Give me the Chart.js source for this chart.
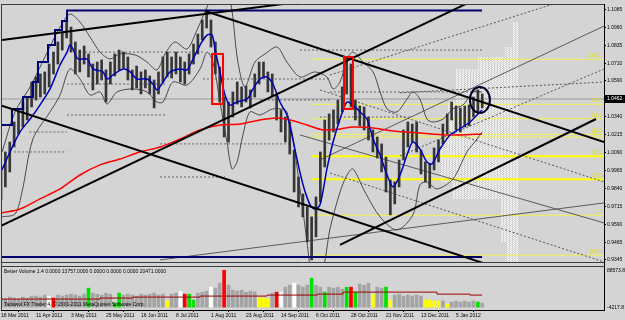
<!DOCTYPE html>
<html>
<head>
<meta charset="utf-8">
<script src="https://cdn.jsdelivr.net/npm/chart.js@4.4.0/dist/chart.umd.min.js"></script>
<style>
  html, body { margin: 0; padding: 0; background: #d4d4d4; }
</style>
</head>
<body>
<canvas id="grafico" width="625" height="320"></canvas>
<script>
// fechas del eje x y su barra (dia habil)
const fechas = ['18 Mar 2011', '11 Apr 2011', '3 May 2011', '25 May 2011', '16 Jun 2011', '8 Jul 2011', '1 Aug 2011',
  '23 Aug 2011', '14 Sep 2011', '6 Oct 2011', '28 Oct 2011', '21 Nov 2011', '13 Dec 2011', '5 Jan 2012'];
const fechasDia = [0, 16, 32, 48, 64, 80, 96, 112, 128, 144, 160, 176, 192, 208];

const precioTicks = [1.1085, 1.0960, 1.0835, 1.0710, 1.0590, 1.0340, 1.0215, 1.0090, 0.9965, 0.9840, 0.9715, 0.9590, 0.9465, 0.9345];
const precioActual = 1.0462;

// velas (una cada 2 dias): maximo y minimo
const velaAlto = [0.9955,1.0094,1.0163,1.0302,1.0372,1.0441,1.0476,1.0580,1.0615,1.0636,
  1.0650,1.0705,1.0788,1.0858,1.0927,1.0997,1.0962,1.0858,1.0802,1.0830,
  1.0775,1.0705,1.0719,1.0733,1.0664,1.0719,1.0775,1.0802,1.0788,1.0754,
  1.0664,1.0691,1.0650,1.0664,1.0622,1.0594,1.0650,1.0754,1.0788,1.0754,
  1.0788,1.0754,1.0719,1.0775,1.0844,1.0913,1.1011,1.1080,1.1011,1.0858,
  1.0684,1.0476,1.0441,1.0511,1.0580,1.0546,1.0552,1.0525,1.0636,1.0719,
  1.0719,1.0650,1.0636,1.0497,1.0386,1.0337,1.0302,1.0108,0.9920,0.9802,
  0.9712,0.9643,0.9782,1.0094,1.0316,1.0358,1.0386,1.0455,1.0546,1.0754,
  1.0705,1.0455,1.0413,1.0407,1.0337,1.0247,1.0198,1.0150,1.0059,0.9900,
  0.9886,1.0038,1.0247,1.0302,1.0288,1.0302,1.0108,1.0025,1.0011,1.0122,
  1.0177,1.0288,1.0358,1.0441,1.0413,1.0400,1.0413,1.0420,1.0476,1.0525,
  1.0497];
const velaBajo = [0.9761,0.9851,0.9955,1.0129,1.0219,1.0268,1.0316,1.0407,1.0455,1.0476,
  1.0497,1.0546,1.0636,1.0705,1.0802,1.0886,1.0788,1.0636,1.0650,1.0705,
  1.0615,1.0525,1.0566,1.0594,1.0441,1.0566,1.0622,1.0664,1.0677,1.0594,
  1.0525,1.0539,1.0497,1.0539,1.0497,1.0400,1.0497,1.0580,1.0615,1.0608,
  1.0636,1.0580,1.0566,1.0636,1.0705,1.0775,1.0872,1.0955,1.0823,1.0636,
  1.0441,1.0198,1.0163,1.0337,1.0427,1.0407,1.0441,1.0400,1.0476,1.0566,
  1.0608,1.0511,1.0483,1.0316,1.0233,1.0163,1.0080,0.9816,0.9712,0.9643,
  0.9469,0.9344,0.9504,0.9747,0.9990,1.0177,1.0233,1.0288,1.0372,1.0497,
  1.0407,1.0316,1.0275,1.0247,1.0177,1.0094,1.0052,0.9955,0.9816,0.9657,
  0.9733,0.9851,1.0038,1.0129,1.0163,1.0094,0.9941,0.9886,0.9844,0.9969,
  1.0025,1.0150,1.0219,1.0316,1.0247,1.0233,1.0268,1.0275,1.0337,1.0372,
  1.0400];

// medias moviles [dia, precio]
const mediaAzul = [[0,0.9955],[4.1,1.0094],[8.7,1.0233],[13.3,1.0323],[17.8,1.0420],[22.4,1.0532],[27,1.0698],[30.2,1.0788],
  [31.5,1.0837],[32.9,1.0809],[35.2,1.0740],[39.3,1.0740],[42.1,1.0671],[46.6,1.0650],[48.5,1.0601],[51.2,1.0629],[55.8,1.0671],
  [59,1.0650],[62.2,1.0601],[66.7,1.0601],[69.5,1.0566],[71.3,1.0525],[74.1,1.0580],[77.3,1.0650],[81.8,1.0671],[85,1.0664],
  [87.8,1.0740],[91,1.0837],[94.2,1.0906],[96.5,1.0906],[97.8,1.0809],[100.1,1.0650],[102.4,1.0490],[104.7,1.0420],[107.9,1.0441],
  [112.5,1.0462],[115.2,1.0532],[118.4,1.0601],[121.6,1.0615],[124.3,1.0566],[127.5,1.0441],[130.7,1.0351],[133,1.0212],
  [135.3,1.0045],[138.1,0.9865],[141.3,0.9726],[143.5,0.9698],[145.8,0.9726],[149,0.9976],[151.8,1.0163],[155,1.0323],
  [158.2,1.0441],[160.9,1.0420],[164.1,1.0372],[167.3,1.0323],[170.1,1.0184],[173.3,1.0073],[176.5,0.9934],[179.2,0.9851],
  [182.4,0.9934],[185.6,1.0073],[188.3,1.0163],[191.5,1.0115],[194.7,1.0025],[197,1.0011],[200.7,1.0115],[205.3,1.0212],
  [209.8,1.0254],[214.4,1.0302],[217.6,1.0351],[219.9,1.0386]];
const mediaRoja = [[0,0.9670],[8.7,0.9698],[17.8,0.9768],[27,0.9837],[36.1,0.9934],[45.3,1.0004],[54.4,1.0045],[63.5,1.0094],
  [72.7,1.0129],[81.8,1.0184],[91,1.0247],[100.1,1.0281],[109.3,1.0288],[118.4,1.0316],[126.2,1.0330],[132.1,1.0316],
  [139.9,1.0281],[147.2,1.0247],[155,1.0254],[160.9,1.0268],[170.1,1.0261],[179.2,1.0240],[191.5,1.0226],[203.9,1.0212],
  [209.8,1.0212],[219.9,1.0219]];

// bandas de Bollinger
const bandaSup = [[0.5,1.0094],[6.4,1.0372],[13.3,1.0546],[20.1,1.0754],[27,1.0962],[31.5,1.1052],[36.1,1.0997],[40.7,1.0893],
  [45.3,1.0788],[49.8,1.0740],[54.4,1.0775],[61.3,1.0768],[66.7,1.0719],[71.3,1.0664],[75,1.0775],[79.5,1.0858],[85,1.0809],
  [89.6,1.0941],[94.2,1.1101],[97.8,1.1205],[103.8,1.1205],[108.3,1.0719],[111.5,1.0546],[116.1,1.0719],[120.7,1.0775],
  [126.2,1.0823],[130.7,1.0719],[136.7,1.0615],[143.5,1.0650],[149,1.0615],[151.8,1.0532],[155,1.0580],[158.2,1.0740],
  [160.9,1.0788],[165.5,1.0719],[170.1,1.0650],[173.3,1.0511],[176.5,1.0393],[181,1.0372],[185.6,1.0462],[188.3,1.0511],
  [191.5,1.0462],[194.7,1.0323],[197.5,1.0302],[202.1,1.0323],[206.6,1.0393],[211.2,1.0420],[215.8,1.0511],[219.9,1.0511]];
const bandaInf = [[0.5,0.9643],[6.4,0.9663],[9.6,0.9816],[14.6,1.0184],[22.4,1.0372],[27,1.0490],[31.5,1.0671],[36.1,1.0601],
  [40.7,1.0490],[45.3,1.0511],[48.5,1.0427],[53,1.0511],[60.3,1.0532],[66.7,1.0511],[71.3,1.0441],[74.1,1.0441],[78.6,1.0580],
  [85,1.0559],[91,1.0671],[94.2,1.0788],[96.9,1.0719],[100.1,1.0441],[103.3,1.0163],[105.6,0.9976],[107.9,1.0025],[110.6,1.0212],
  [113.8,1.0372],[118.4,1.0351],[124.3,1.0393],[130.7,1.0372],[136.7,0.9837],[139.9,0.9469],[142.2,0.9261],[146.7,0.9261],
  [150.4,0.9559],[155,0.9816],[158.2,0.9934],[160.9,0.9976],[166.4,0.9816],[173.3,0.9643],[181,0.9552],[188.3,0.9657],
  [191.5,0.9865],[194.7,0.9886],[199.3,0.9837],[206.6,0.9906],[213,1.0094],[217.6,1.0184],[219.9,1.0233]];

// canal (escalones gruesos)
const canalSup = [[0,0.9837],[5,1.0281],[10.1,1.0393],[14.6,1.0476],[16.9,1.0580],[21.5,1.0719],[24.7,1.0837],[27.9,1.0941],
  [30.2,1.1004],[92.3,1.1077],[219.9,1.1077]];
const canalInf = [[0,0.9691],[141.3,0.9365],[219.9,0.9365]];

// lineas de tendencia [dia1, precio1, dia2, precio2]
const lineasNegras = [[0.5,1.0872,128.9,1.1122],[0,1.0418,220.3,0.9323],[93.3,1.1073,275.7,1.0163],
  [0,0.9580,214.4,1.1136],[155,0.9448,272,1.0323]];
const lineasGrises = [[145.8,1.0039,275.7,1.0969],[72.7,0.9344,275.7,0.9740],[136.7,1.0212,275.7,0.9601]];
const lineasAbanico = [[150.4,1.0629,255.5,1.1136],[182.4,1.0505,275.7,1.0580],[182.4,1.0066,275.7,1.0671],
  [145.8,1.0525,275.7,0.9886],[150.4,0.9948,275.7,0.9330]];
// niveles punteados [dia1, dia2, precio]
const escalones = [[38.4,93.3,1.0788],[136.7,219.9,1.0802],[30.2,75,1.0566],[92.3,150.4,1.0601],[30.2,75,1.0351],
  [118.4,150.4,1.0455],[150.4,219.9,1.0511],[72.7,132.1,1.0150],[145.8,187,1.0337],[72.7,102.4,0.9920],
  [6,30,1.0094],[13,30,1.0233]];

// Fibonacci
const fibNiveles = [1.0738, 1.0425, 1.0325, 1.0217, 1.0198, 1.0064, 0.9904, 0.9654, 0.9377];
const fibEtiquetas = ['100.0', '23.6', '61.8', '38.2', '50.0', '38.2', '23.6', '0.0', '100.0'];
const fibInicio = 142;

// marcas: rectangulos rojos y elipse [dia1, dia2, precioArriba, precioAbajo]
const rectRojos = [[96.5,101.5,1.0775,1.0427],[156.8,160.9,1.0754,1.0393]];
const elipse = [214.4,223.5,1.0546,1.0365];

// perfil de mercado [precioArriba, precioAbajo, diaInicio]
const perfil = [[1.0997,1.0823,233.6],[1.0823,1.0754,230.4],[1.0754,1.0671,218.1],[1.0671,1.0441,207.5],
  [1.0441,1.0233,204.3],[1.0233,0.9886,200.7],[0.9886,0.9768,206.6],[0.9768,0.9469,228.1],[0.9469,0.9330,231.3]];
const perfilFin = 236.8;

// volumen
const volumen = [20700,18400,22900,20700,18400,22900,20700,25200,25200,22900,
  27500,25200,20700,27500,25200,27500,29700,27500,25200,29700,
  43300,32000,29700,27500,32000,29700,9400,32000,27500,29700,
  27500,25200,29700,27500,29700,32000,27500,29700,13900,29700,
  32000,36500,29700,29700,16200,32000,34300,36500,45600,43300,
  54600,84000,50100,38800,36500,38800,34300,36500,34300,20700,
  20700,18400,32000,34300,34300,45600,50100,54600,50100,45600,
  50100,65900,50100,45600,34300,45600,43300,45600,41000,45600,
  45600,34300,52400,50100,54600,29700,45600,43300,45600,16200,
  27500,29700,25200,27500,25200,27500,25200,16200,16200,13900,
  13900,13900,7100,11600,13900,11600,13900,11600,13900,11600,
  9400];
const volTipo = ('ggggggggggg' + 'wr' + 'ggggggg' + 'G' + 'ggggg' + 'GG' + 'gggggggggg' + 'y' + 'gg' + 'wrGG' + 'ggg' + 'w' +
  'gg' + 'r' + 'ggggggg' + 'yyy' + 'g' + 'rw' + 'gg' + 'w' + 'ggg' + 'G' + 'gg' + 'G' + 'gggg' + 'GrG' + 'ggg' + 'y' + 'gg' +
  'Gy' + 'ggggggg' + 'yyyy' + 'g' + 'y' + 'gggggg' + 'G' + 'g').split('');
const volMedia = [[0,18400],[45.3,18400],[60.3,20700],[91,22900],[121.6,25200],[144.5,27500],[156.3,29700],
  [177.8,34300],[199.3,34300],[214.4,29700],[219.9,27500]];
const volEtiquetas = [88573.8, -4217.8];

const textoVolumen = 'Better Volume 1.4 0.0000 13757.0000 0.0000 0.0000 0.0000 20471.0000';
const textoPie = 'Tadawul FX Trader 4, \u00a9 2001-2011 MetaQuotes Software Corp.';

document.addEventListener("DOMContentLoaded", function () {
    const FONDO = '#d4d4d4';
    const fuente = { family: '"Liberation Sans", Arial, sans-serif', size: 5 };
    const colorVol = { g: '#a4a4a4', r: '#ff0000', G: '#00e000', w: '#ffffff', y: '#ffff00' };
    const recorte = { left: 0, top: 0, right: 0, bottom: -48 };

    const puntos = arr => arr.map(p => ({ x: p[0], y: p[1] }));
    const linea = (data, color, ancho, extra) => Object.assign({
        type: 'line', data: data, borderColor: color, borderWidth: ancho,
        pointRadius: 0, fill: false, yAxisID: 'y', clip: recorte
    }, extra || {});

    const datasets = [];
    lineasNegras.forEach(l => datasets.push(linea([{ x: l[0], y: l[1] }, { x: l[2], y: l[3] }], '#000000', 2)));
    datasets.push(linea(puntos(canalSup), '#000070', 2, { stepped: 'after' }));
    datasets.push(linea(puntos(canalInf), '#000070', 2, { stepped: 'after' }));
    datasets.push(linea(puntos(mediaAzul), '#0000b4', 1.5, { tension: 0.3 }));
    datasets.push(linea(puntos(mediaRoja), '#ff0000', 1.5, { tension: 0.3 }));
    datasets.push({
        type: 'bar', yAxisID: 'y', clip: recorte, grouped: false,
        data: velaAlto.map((h, i) => ({ x: i * 2, y: [velaBajo[i], h] })),
        backgroundColor: '#363636', barThickness: 2
    });
    datasets.push(linea(puntos(bandaSup), '#4a4a4a', 1, { tension: 0.3 }));
    datasets.push(linea(puntos(bandaInf), '#4a4a4a', 1, { tension: 0.3 }));
    lineasGrises.forEach(l => datasets.push(linea([{ x: l[0], y: l[1] }, { x: l[2], y: l[3] }], '#5a5a5a', 1)));
    lineasAbanico.forEach(l => datasets.push(linea([{ x: l[0], y: l[1] }, { x: l[2], y: l[3] }], '#555555', 1, { borderDash: [2, 2] })));
    escalones.forEach(e => datasets.push(linea([{ x: e[0], y: e[2] }, { x: e[1], y: e[2] }], '#666666', 1, { borderDash: [2, 2] })));
    datasets.push(linea([{ x: 0, y: precioActual }, { x: 275.7, y: precioActual }], '#9a9a9a', 1));
    fibNiveles.forEach((v, i) => datasets.push(linea([{ x: fibInicio, y: v }, { x: 275.7, y: v }],
        (i === 5 || i === 6) ? '#ffff00' : '#f2f250', (i === 5 || i === 6) ? 2 : 1)));
    datasets.push({
        type: 'line', yAxisID: 'yv', data: puntos(volMedia), borderColor: '#9a0000', borderWidth: 1,
        pointRadius: 0, stepped: 'after'
    });
    datasets.push({
        type: 'bar', yAxisID: 'yv', grouped: false,
        data: volumen.map((v, i) => ({ x: i * 2, y: v })),
        backgroundColor: volTipo.map(t => colorVol[t]), barThickness: 3
    });

    const extras = {
        id: 'extras',
        beforeDraw(chart) {
            const ctx = chart.ctx;
            ctx.save();
            ctx.fillStyle = FONDO;
            ctx.fillRect(0, 0, chart.width, chart.height);
            ctx.restore();
        },
        beforeDatasetsDraw(chart) {
            const { ctx, scales: { x, y } } = chart;
            const tile = document.createElement('canvas');
            tile.width = 3; tile.height = 2;
            const tc = tile.getContext('2d');
            tc.fillStyle = 'rgba(255,255,255,0.9)';
            tc.fillRect(0, 0, 1, 1);
            tc.fillRect(1, 1, 1, 1);
            ctx.save();
            ctx.fillStyle = ctx.createPattern(tile, 'repeat');
            const xFin = Math.round(x.getPixelForValue(perfilFin));
            perfil.forEach(([pa, pb, d]) => {
                const x1 = Math.round(x.getPixelForValue(d));
                const y1 = Math.round(y.getPixelForValue(pa)), y2 = Math.round(y.getPixelForValue(pb));
                ctx.fillRect(x1, y1, xFin - x1, y2 - y1);
            });
            ctx.restore();
        },
        afterDatasetsDraw(chart) {
            const { ctx, chartArea, scales: { x, y } } = chart;
            ctx.save();
            // rectangulos rojos
            ctx.strokeStyle = '#ff0000';
            ctx.lineWidth = 2;
            rectRojos.forEach(r => {
                const x1 = x.getPixelForValue(r[0]), x2 = x.getPixelForValue(r[1]);
                const y1 = y.getPixelForValue(r[2]), y2 = y.getPixelForValue(r[3]);
                ctx.strokeRect(x1, y1, x2 - x1, y2 - y1);
            });
            // elipse
            const ex1 = x.getPixelForValue(elipse[0]), ex2 = x.getPixelForValue(elipse[1]);
            const ey1 = y.getPixelForValue(elipse[2]), ey2 = y.getPixelForValue(elipse[3]);
            ctx.strokeStyle = '#000028';
            ctx.beginPath();
            ctx.ellipse((ex1 + ex2) / 2, (ey1 + ey2) / 2, (ex2 - ex1) / 2, (ey2 - ey1) / 2, 0, 0, Math.PI * 2);
            ctx.stroke();
            // etiquetas Fibonacci
            ctx.font = '5px "Liberation Sans", Arial, sans-serif';
            ctx.fillStyle = '#e6e600';
            ctx.textAlign = 'right';
            ctx.textBaseline = 'bottom';
            fibNiveles.forEach((v, i) => {
                ctx.fillText(fibEtiquetas[i], chartArea.right - 2, y.getPixelForValue(v) - 1);
            });
            // textos del panel de volumen
            ctx.fillStyle = '#000000';
            ctx.textAlign = 'left';
            ctx.textBaseline = 'middle';
            ctx.fillText(textoVolumen, 4, 272);
            ctx.fillText(textoPie, 4, 305);
            ctx.restore();
        },
        afterDraw(chart) {
            const { ctx, chartArea, scales: { y, yv } } = chart;
            ctx.save();
            // separacion entre paneles
            ctx.fillStyle = FONDO;
            ctx.fillRect(chartArea.left, 262, chartArea.right - chartArea.left, 4);
            ctx.strokeStyle = '#3c3c3c';
            ctx.lineWidth = 1;
            ctx.beginPath();
            ctx.moveTo(chartArea.left, 262.5); ctx.lineTo(chartArea.right, 262.5);
            ctx.moveTo(chartArea.left, 266.5); ctx.lineTo(chartArea.right, 266.5);
            ctx.moveTo(1.5, chartArea.top); ctx.lineTo(1.5, chartArea.bottom);
            ctx.moveTo(chartArea.left, chartArea.top + 0.5); ctx.lineTo(chartArea.right, chartArea.top + 0.5);
            ctx.stroke();
            // etiquetas del volumen
            ctx.font = '5px "Liberation Sans", Arial, sans-serif';
            ctx.fillStyle = '#000000';
            ctx.textAlign = 'left';
            ctx.textBaseline = 'middle';
            ctx.fillText(volEtiquetas[0].toFixed(1), chartArea.right + 3, yv.getPixelForValue(volEtiquetas[0]) + 2);
            ctx.fillText(volEtiquetas[1].toFixed(1), chartArea.right + 3, yv.getPixelForValue(volEtiquetas[1]) - 1);
            // precio actual
            const py = y.getPixelForValue(precioActual);
            ctx.fillStyle = '#000000';
            ctx.fillRect(chartArea.right, py - 4, 21, 8);
            ctx.fillStyle = '#ffffff';
            ctx.fillText(precioActual.toFixed(4), chartArea.right + 3, py);
            ctx.restore();
        }
    };

    new Chart(document.getElementById("grafico").getContext("2d"), {
        type: 'line',
        data: { datasets: datasets },
        options: {
            responsive: false,
            animation: false,
            devicePixelRatio: 1,
            layout: { padding: { left: 1, top: 2, right: 0, bottom: 0 } },
            plugins: { legend: { display: false }, tooltip: { enabled: false } },
            scales: {
                x: {
                    type: 'linear', min: 0, max: 275.66, offset: false,
                    afterFit: s => { s.height = 10; },
                    afterBuildTicks: s => { s.ticks = fechasDia.map(v => ({ value: v })); },
                    ticks: {
                        callback: (v, i) => fechas[i], align: 'start', autoSkip: false, maxRotation: 0,
                        padding: 1, color: '#000000', font: fuente
                    },
                    grid: { drawOnChartArea: false, tickLength: 2, color: '#000000' },
                    border: { color: '#000000' }
                },
                y: {
                    type: 'linear', position: 'right', min: 0.8996, max: 1.1122,
                    afterFit: s => { s.width = 21; },
                    afterBuildTicks: s => { s.ticks = precioTicks.map(v => ({ value: v })); },
                    ticks: {
                        callback: v => Number(v).toFixed(4), autoSkip: false, padding: 1,
                        color: '#000000', font: fuente
                    },
                    grid: { drawOnChartArea: false, tickLength: 2, color: '#000000' },
                    border: { color: '#000000' }
                },
                yv: { type: 'linear', display: false, min: -6480, max: 690600 }
            }
        },
        plugins: [extras]
    });
});
</script>
</body>
</html>
